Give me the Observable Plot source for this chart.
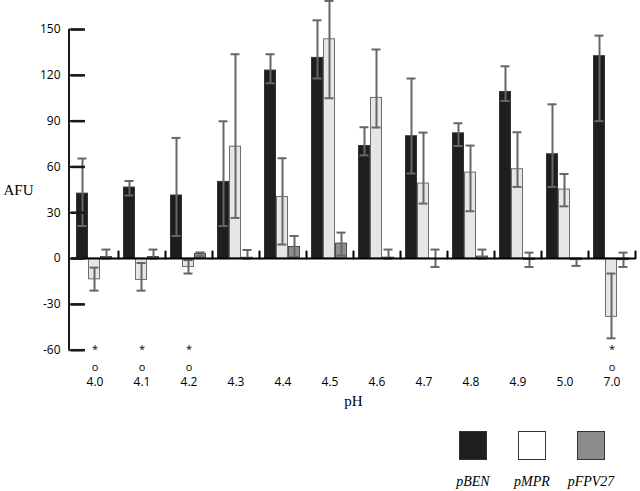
<!DOCTYPE html>
<html>
<head>
<meta charset="utf-8">
<script src="https://cdn.jsdelivr.net/npm/d3@7"></script>
<script src="https://cdn.jsdelivr.net/npm/@observablehq/plot@0.6"></script>
<style>
  html, body { margin: 0; padding: 0; background: white; }
  #wrap { position: relative; width: 640px; height: 491px; }
  #chart, #yaxis { position: absolute; left: 0; top: 0; }
  #yaxis { pointer-events: none; }
  #legend { position: absolute; left: 0; top: 420px; width: 640px; height: 71px; }
  .item { position: absolute; top: 0; width: 70px; text-align: center; }
  .sw { width: 26px; height: 27px; margin: 11px auto 0; border: 1px solid #333; box-sizing: content-box; }
  .lab { font-family: "Liberation Serif", serif; font-style: italic; font-size: 14px; margin-top: 14px; line-height: 16px; }
</style>
</head>
<body>
<div id="wrap"><div id="chart"></div><div id="yaxis"></div><div id="legend"></div></div>
<script>
// ---- data ----
const pH = ["4.0","4.1","4.2","4.3","4.4","4.5","4.6","4.7","4.8","4.9","5.0","7.0"];
const series = ["pBEN","pMPR","pFPV27"];

const pBEN   = [42.5, 46.5, 41.3, 50.2, 123.1, 131.4, 73.7, 80.1, 82.0, 109.1, 68.3, 132.5];
const pBENlo = [21.3, 41.3, 14.8, 21.3, 114.8, 117.9, 67.6, 55.7, 73.7, 103.2, 46.9, 90.0];
const pBENhi = [65.5, 50.8, 79.0, 89.9, 133.8, 156.0, 86.0, 117.9, 88.6, 125.9, 101.0, 146.0];

const pMPR   = [-13.6, -14.0, -5.5, 73.3, 40.3, 143.6, 105.2, 49.1, 56.3, 58.5, 45.2, -38.2];
const pMPRlo = [-21.0, -21.0, -9.8, 26.6, 9.2, 105.0, 85.8, 36.0, 31.0, 46.9, 34.2, -52.2];
const pMPRhi = [-5.9, -2.9, -1.0, 133.8, 65.7, 168.7, 136.9, 82.5, 74.0, 82.7, 55.4, -9.8];

const pFPV   = [1.0, 1.0, 3.0, 0.5, 7.6, 9.8, 0.6, 0.0, 1.3, -0.8, -1.0, -1.0];
const pFPVlo = [0.0, 0.0, 1.5, 0.0, 1.0, 2.0, 0.0, -5.5, 0.0, -5.5, -4.8, -5.5];
const pFPVhi = [5.9, 5.9, 4.0, 5.6, 14.8, 17.0, 5.9, 5.9, 5.9, 3.9, 0.0, 3.9];

const yTicks = [-60, -30, 0, 30, 60, 90, 120, 150];
const markedPH = ["4.0","4.1","4.2","7.0"];   // * and o annotations
const markY = -60;

// ---- styles / layout ----
const W = 640, H = 420, ML = 68.5, MR = 2, MT = 29, MB = 70.3;
const tickLen = 14;
const fills   = ["#1e1e1e", "#e6e6e6", "#8e8e8e"];
const strokes = ["#333333", "#6e6e6e", "#4a4a4a"];
const legendFills = ["#1e1e1e", "#ffffff", "#8c8c8c"];
const errColor = "#666666";
const axisColor = "#1a1a1a";

const vals = [pBEN, pMPR, pFPV], los = [pBENlo, pMPRlo, pFPVlo], his = [pBENhi, pMPRhi, pFPVhi];
const data = pH.flatMap((p, i) => series.map((s, j) => ({
  pH: p, series: s, value: vals[j][i], lo: los[j][i], hi: his[j][i]
})));

const barMarks = series.map((s, j) => Plot.barY(data.filter(d => d.series === s), {
  fx: "pH", x: "series", y1: () => 0, y2: "value",
  fill: fills[j], stroke: strokes[j], strokeWidth: 1
}));

const lineShape = { draw(ctx, l) { ctx.moveTo(0, 0); ctx.lineTo(0, -l); } };

const chart = Plot.plot({
  width: W, height: H,
  marginLeft: ML, marginRight: MR, marginTop: MT, marginBottom: MB,
  style: { fontFamily: "'Open Sans', sans-serif", fontSize: "12px", background: "white", color: "black" },
  fx: { domain: pH, padding: 0, label: null },
  x: { domain: series, paddingInner: 0.08, paddingOuter: 0.385, axis: null },
  y: { domain: [-60, 150], label: null },
  marks: [
    ...barMarks,
    Plot.ruleX(data, { fx: "pH", x: "series", y1: "lo", y2: "hi", stroke: errColor, strokeWidth: 2 }),
    Plot.tickY(data, { fx: "pH", x: "series", y: "hi", stroke: errColor, strokeWidth: 2, insetLeft: 1, insetRight: 1 }),
    Plot.tickY(data, { fx: "pH", x: "series", y: "lo", stroke: errColor, strokeWidth: 2, insetLeft: 1, insetRight: 1 }),
    Plot.ruleY([0], { stroke: "black", strokeWidth: 2 }),
    // group separator ticks on the baseline
    Plot.vector(pH, { fx: d => d, y: () => 0, frameAnchor: "right", length: 7, rotate: 0, anchor: "start",
      shape: lineShape, stroke: "black", strokeWidth: 2 }),
    // y axis: inward ticks (negative tick size) + labels
    Plot.axisY({ ticks: yTicks, tickSize: -tickLen, tickPadding: 25, label: null, fontSize: 12,
      tickFormat: d => String(d), stroke: axisColor, strokeWidth: 2.5 }),
    Plot.axisFx({ anchor: "bottom", tickSize: 0, tickPadding: 27, label: null, fontSize: 12 }),
    Plot.text(markedPH, { fx: d => d, y: () => markY, text: () => "*", fontSize: 11, dy: -1 }),
    Plot.text(markedPH, { fx: d => d, y: () => markY, text: () => "o", fontSize: 11, dy: 17 }),
    Plot.text(["pH"], { frameAnchor: "bottom", dy: 56, facet: "super", text: d => d,
      fontFamily: "'Liberation Serif', serif", fontSize: 15 }),
    Plot.text(["AFU"], { frameAnchor: "left", dx: -68, textAnchor: "start", facet: "super", text: d => d,
      fontFamily: "'Liberation Serif', serif", fontSize: 15 })
  ]
});
document.getElementById("chart").appendChild(chart);

// y axis line and ticks again on an unfaceted overlay sharing the y scale
const yAxisOverlay = Plot.plot({
  width: W, height: H,
  marginLeft: ML, marginRight: MR, marginTop: MT, marginBottom: MB,
  style: { background: "transparent" },
  x: { domain: [0, 1], axis: null },
  y: { domain: [-60, 150], axis: null },
  marks: [
    Plot.ruleX([0], { y1: yTicks[0], y2: yTicks[yTicks.length - 1], stroke: axisColor, strokeWidth: 2 }),
    Plot.ruleY(yTicks, { insetRight: W - ML - MR - tickLen, stroke: axisColor, strokeWidth: 2 })
  ]
});
document.getElementById("yaxis").appendChild(yAxisOverlay);

// legend
const legendCenters = [473, 532, 591];
const legend = document.getElementById("legend");
series.forEach((s, j) => {
  const it = document.createElement("div");
  it.className = "item";
  it.style.left = (legendCenters[j] - 35) + "px";
  const sw = document.createElement("div");
  sw.className = "sw";
  sw.style.background = legendFills[j];
  const lab = document.createElement("div");
  lab.className = "lab";
  lab.textContent = s;
  it.appendChild(sw); it.appendChild(lab);
  legend.appendChild(it);
});
</script>
</body>
</html>
